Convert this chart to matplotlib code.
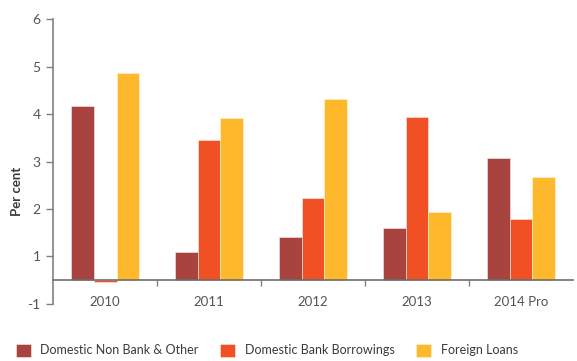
import numpy as np
import matplotlib.pyplot as plt
from matplotlib.ticker import FixedLocator, FuncFormatter

# financing sources, per cent of GDP
years = ['2010', '2011', '2012', '2013', '2014 Pro']
non_bank = [3.66, 0.60, 0.91, 1.10, 2.58]
bank = [-0.04, 2.95, 1.74, 3.43, 1.30]
foreign = [4.36, 3.41, 3.82, 1.43, 2.17]

series = [
    ('Domestic Non Bank & Other', non_bank, '#A8433F'),
    ('Domestic Bank Borrowings', bank, '#F15025'),
    ('Foreign Loans', foreign, '#FDB92B'),
]

plt.rcParams['font.family'] = ['Lato', 'DejaVu Sans']
text_col = '#3a3a3a'
axis_col = '#808080'

fig = plt.figure(figsize=(5.77, 3.61), dpi=100)
ax = fig.add_axes([0.092, 0.158, 0.901, 0.789])

x = np.arange(len(years))
w = 0.22
for i, (name, vals, col) in enumerate(series):
    ax.bar(x + (i - 1) * w, vals, width=w, color=col, label=name,
           edgecolor=(1, 1, 1, 0.45), linewidth=0.7, zorder=2)

ax.set_xlim(-0.5, len(years) - 0.5)
ax.set_ylim(-0.5, 5.5)

# y axis: ticks on half units, labels rounded half away from zero
yt = np.arange(-0.5, 6, 1.0)
ax.yaxis.set_major_locator(FixedLocator(yt))
ax.yaxis.set_major_formatter(FuncFormatter(
    lambda v, p: '%d' % (np.sign(v) * np.floor(abs(v) + 0.5))))
ax.tick_params(axis='y', direction='out', length=5, width=1, color=axis_col,
               labelsize=10, labelcolor='#555555', pad=4)

# category axis sits on the zero line
ax.spines['bottom'].set_position(('data', 0))
ax.spines['bottom'].set_color('#6e6e6e')
ax.spines['bottom'].set_linewidth(1.2)
ax.spines['bottom'].set_zorder(3)
ax.set_xticks(x)
ax.set_xticklabels(years)
ax.set_xticks(x[:-1] + 0.5, minor=True)
ax.tick_params(axis='x', which='major', length=0, pad=11, labelsize=9.5,
               labelcolor='#555555')
ax.tick_params(axis='x', which='minor', direction='out', length=4, width=1,
               color=axis_col)

ax.spines['left'].set_color(axis_col)
ax.spines['left'].set_linewidth(1.2)
ax.spines['top'].set_visible(False)
ax.spines['right'].set_visible(False)

fig.text(0.03, 0.47, 'Per cent', rotation=90, ha='center', va='center',
         fontsize=9.5, fontweight='bold', color=text_col)

fig.legend(loc='center', bbox_to_anchor=(0.462, 0.03), ncol=3, frameon=False,
           fontsize=9, handlelength=1.2, handleheight=1.2, handletextpad=0.75,
           columnspacing=1.75, labelcolor=text_col, borderaxespad=0)

fig.savefig('out.png', dpi=100)
